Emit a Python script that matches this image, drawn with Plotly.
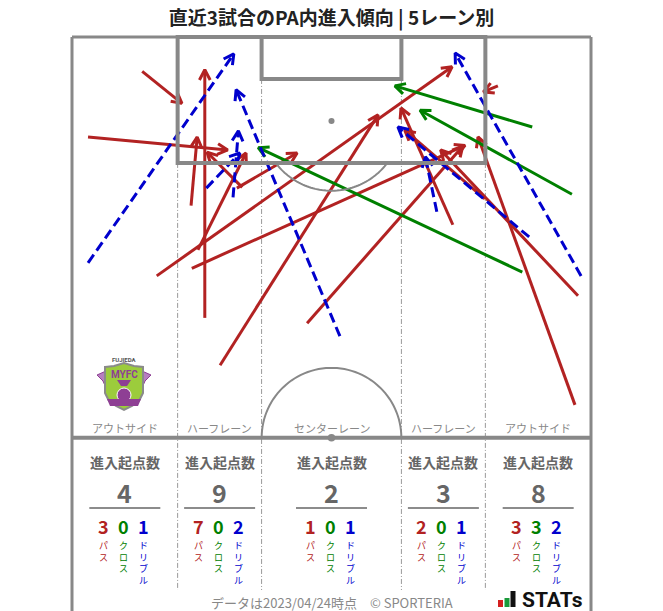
import numpy as np
import plotly.graph_objects as go

FONT = "Noto Sans CJK JP"

# ---------------- data ----------------
TITLE = "直近3試合のPA内進入傾向 | 5レーン別"
LANE_NAMES = ["アウトサイド", "ハーフレーン", "センターレーン", "ハーフレーン", "アウトサイド"]
LANE_EDGES = [0.0, 13.84, 24.84, 43.16, 54.16, 68.0]
PASS_COUNTS = [3, 7, 1, 2, 3]
CROSS_COUNTS = [0, 0, 0, 0, 3]
DRIBBLE_COUNTS = [1, 2, 1, 1, 2]
COUNT_LABELS = ["パス", "クロス", "ドリブル"]
HEADER_LABEL = "進入起点数"
DATA_NOTE = "データは2023/04/24時点　© SPORTERIA"

# arrows, metres: x from left touchline (0..68), y from goal line (0..52.5)
PASS_START_X = [9.2, 2.1, 11.1, 17.4, 15.6, 15.7, 19.4, 30.8, 65.9, 66.3, 55.8, 49.9, 54.1, 22.3, 21.6, 16.5]
PASS_START_Y = [4.5, 13.1, 31.3, 36.8, 22.1, 30.3, 43.0, 37.5, 48.2, 33.9, 6.4, 24.6, 21.2, 19.7, 19.8, 27.9]
PASS_END_X = [14.4, 20.4, 49.8, 17.4, 16.4, 51.5, 40.1, 51.2, 53.2, 48.3, 53.9, 43.1, 43.6, 17.7, 29.5, 22.8]
PASS_END_Y = [8.7, 14.8, 3.9, 4.3, 13.1, 14.2, 10.2, 14.3, 13.1, 14.8, 7.2, 9.3, 12.2, 15.1, 15.2, 15.2]

CROSS_START_X = [60.3, 65.5, 59.0]
CROSS_START_Y = [11.8, 20.6, 30.8]
CROSS_END_X = [42.3, 45.6, 24.4]
CROSS_END_Y = [6.4, 9.6, 14.5]

DRIBBLE_START_X = [2.1, 35.1, 21.1, 17.6, 47.8, 59.9, 66.7]
DRIBBLE_START_Y = [29.6, 39.2, 21.0, 19.8, 22.9, 26.2, 31.3]
DRIBBLE_END_X = [21.2, 21.5, 21.8, 22.0, 46.3, 42.7, 50.2]
DRIBBLE_END_Y = [2.2, 6.9, 12.3, 15.2, 15.7, 11.8, 2.1]

RED = "#b22222"
GREEN = "#008000"
BLUE = "#0000cd"
LINE_GRAY = "#888888"
TEXT_GRAY = "#666666"

# ---------------- layout geometry ----------------
# page has an 8px body margin, so the figure is drawn 8px smaller and offset
BODY = 8
W, H = 663 - BODY, 611 - BODY
S = 519 / 68.0  # px per metre
PLOT_L, PLOT_R, PLOT_T, PLOT_B = 62, 601, 27, 611   # plot area in page pixels
ML, MT = PLOT_L - BODY, PLOT_T - BODY
MR = W - (PLOT_R - BODY)
MB = H - (PLOT_B - BODY)
XR = [-(72 - PLOT_L) / S, 68 + (PLOT_R - 591) / S]
Y_TOP = -(37 - PLOT_T) / S
Y_BOT = Y_TOP + (PLOT_B - PLOT_T) / S


def pm(px, py):
    """page pixel -> metres (used only for decorative logos / text placement)"""
    return (px - 72) / S, (py - 37) / S


fig = go.Figure()

HEAD_LEN = 1.5
HEAD_ANG = np.deg2rad(28)


def add_arrows(x0s, y0s, x1s, y1s, color, dash, name):
    sx, sy, hx, hy = [], [], [], []
    for a, b, c, d in zip(x0s, y0s, x1s, y1s):
        sx += [a, c, None]
        sy += [b, d, None]
        v = np.array([a - c, b - d], dtype=float)
        v /= np.hypot(*v)
        pts = []
        for ang in (HEAD_ANG, -HEAD_ANG):
            rx = v[0] * np.cos(ang) - v[1] * np.sin(ang)
            ry = v[0] * np.sin(ang) + v[1] * np.cos(ang)
            pts.append((c + HEAD_LEN * rx, d + HEAD_LEN * ry))
        hx += [pts[0][0], c, pts[1][0], None]
        hy += [pts[0][1], d, pts[1][1], None]
    fig.add_trace(go.Scatter(x=sx, y=sy, mode="lines", name=name,
                             line=dict(color=color, width=3, dash=dash),
                             hoverinfo="skip", showlegend=False))
    fig.add_trace(go.Scatter(x=hx, y=hy, mode="lines", name=name + " head",
                             line=dict(color=color, width=3),
                             hoverinfo="skip", showlegend=False))


shapes = []
GRAY_THICK = dict(color=LINE_GRAY, width=4)

# outer border + halfway line
shapes.append(dict(type="line", x0=0, x1=0, y0=0, y1=Y_BOT + 1, line=dict(color=LINE_GRAY, width=3)))
shapes.append(dict(type="line", x0=68, x1=68, y0=0, y1=Y_BOT + 1, line=dict(color=LINE_GRAY, width=3)))
shapes.append(dict(type="line", x0=0, x1=68, y0=0, y1=0, line=dict(color=LINE_GRAY, width=3)))
shapes.append(dict(type="line", x0=0, x1=68, y0=52.5, y1=52.5, line=GRAY_THICK))
# penalty area and goal area
shapes.append(dict(type="rect", x0=13.84, x1=54.16, y0=0, y1=16.5, line=GRAY_THICK))
shapes.append(dict(type="rect", x0=24.84, x1=43.16, y0=0, y1=5.5, line=GRAY_THICK))


def arc_path(cx, cy, r, a0, a1, n=60):
    a = np.deg2rad(np.linspace(a0, a1, n))
    xs = cx + r * np.cos(a)
    ys = cy + r * np.sin(a)
    return "M " + " L ".join(f"{x:.3f},{y:.3f}" for x, y in zip(xs, ys))


ang = np.rad2deg(np.arcsin(5.5 / 9.15))
shapes.append(dict(type="path", path=arc_path(34, 11, 9.15, ang, 180 - ang),
                   line=dict(color=LINE_GRAY, width=2)))
shapes.append(dict(type="path", path=arc_path(34, 52.5, 9.15, 180, 360),
                   line=dict(color=LINE_GRAY, width=2)))
# spots
shapes.append(dict(type="circle", x0=34 - 0.4, x1=34 + 0.4, y0=11 - 0.4, y1=11 + 0.4,
                   fillcolor=LINE_GRAY, line=dict(width=0)))
shapes.append(dict(type="circle", x0=34 - 0.5, x1=34 + 0.5, y0=52.5 - 0.5, y1=52.5 + 0.5,
                   fillcolor=LINE_GRAY, line=dict(width=0)))

# lane dividers
STATS_BOTTOM = (590 - 37) / S
for xe, ys in zip(LANE_EDGES[1:-1], [16.5, 5.5, 5.5, 16.5]):
    shapes.append(dict(type="line", x0=xe, x1=xe, y0=ys, y1=STATS_BOTTOM,
                       line=dict(color="#9a9a9a", width=1, dash="5px,2px,1px,2px"), layer="below"))

annotations = []
centers = [(LANE_EDGES[i] + LANE_EDGES[i + 1]) / 2 for i in range(5)]

Y_LANE = (428 - 37) / S
Y_HEAD = (462 - 37) / S
Y_NUM = (492 - 37) / S
Y_RULE = (508 - 37) / S
Y_CNT = (526 - 37) / S
Y_CH0 = (538 - 37) / S
OFFS = [-21.5 / S, -1.5 / S, 18.5 / S]
COLORS = [RED, GREEN, BLUE]

for i, cx in enumerate(centers):
    annotations.append(dict(x=cx, y=Y_LANE, text=LANE_NAMES[i], showarrow=False,
                            font=dict(family=FONT, size=11, color="#888888")))
    annotations.append(dict(x=cx, y=Y_HEAD, text="<b>" + HEADER_LABEL + "</b>", showarrow=False,
                            font=dict(family=FONT, size=14, color=TEXT_GRAY)))
    total = PASS_COUNTS[i] + CROSS_COUNTS[i] + DRIBBLE_COUNTS[i]
    annotations.append(dict(x=cx, y=Y_NUM, text="<b>" + str(total) + "</b>", showarrow=False,
                            font=dict(family=FONT, size=25, color=TEXT_GRAY)))
    shapes.append(dict(type="line", x0=cx - 35.5 / S, x1=cx + 35.5 / S, y0=Y_RULE, y1=Y_RULE,
                       line=dict(color=TEXT_GRAY, width=1.5)))
    for k, cnt in enumerate([PASS_COUNTS[i], CROSS_COUNTS[i], DRIBBLE_COUNTS[i]]):
        annotations.append(dict(x=cx + OFFS[k], y=Y_CNT, text="<b>" + str(cnt) + "</b>",
                                showarrow=False, borderpad=0,
                                font=dict(family=FONT, size=18, color=COLORS[k])))
        annotations.append(dict(x=cx + OFFS[k], y=Y_CH0, yanchor="top",
                                text="<br>".join(COUNT_LABELS[k]),
                                showarrow=False, borderpad=0,
                                font=dict(family=FONT, size=9, color=COLORS[k])))

annotations.append(dict(x=34, y=(602 - 37) / S, text=DATA_NOTE, showarrow=False, borderpad=0,
                        font=dict(family=FONT, size=13, color="#888888")))

# ---- STATs logo ----
for (xa, xb, ya, yb, col) in [(498, 503, 600, 607, "#d42020"), (504.5, 509.5, 598, 607, "#1a9a3a"),
                              (510.5, 515.5, 591, 607, "#111111")]:
    x0, y0 = pm(xa, ya)
    x1, y1 = pm(xb, yb)
    shapes.append(dict(type="rect", x0=x0, x1=x1, y0=y0, y1=y1, fillcolor=col, line=dict(width=0)))
lx, ly = pm(552, 600)
annotations.append(dict(x=lx, y=ly, text="<b>STATs</b>", showarrow=False, borderpad=0,
                        font=dict(family="Roboto", size=21, color="#111111")))

# ---- club emblem (decorative approximation) ----
def ppath(pts, close=True):
    s = "M " + " L ".join("{:.3f},{:.3f}".format(*pm(x, y)) for x, y in pts)
    return s + (" Z" if close else "")

PURPLE = "#8e3f94"
shapes.append(dict(type="path", path=ppath([(106, 371), (97, 375), (103, 381), (106, 388)]),
                   fillcolor="#b77fc0", line=dict(color=PURPLE, width=1)))
shapes.append(dict(type="path", path=ppath([(142, 371), (151, 375), (145, 381), (142, 388)]),
                   fillcolor="#b77fc0", line=dict(color=PURPLE, width=1)))
shield = [(105, 367), (114, 366), (124, 363), (134, 366), (143, 367), (143, 393),
          (139, 401), (132, 406), (124, 410), (116, 406), (109, 401), (105, 393)]
shapes.append(dict(type="path", path=ppath(shield), fillcolor="#9ccc3c",
                   line=dict(color="#8a8a8a", width=2)))
bx0, by0 = pm(117, 388)
bx1, by1 = pm(131, 402)
shapes.append(dict(type="circle", x0=bx0, x1=bx1, y0=by0, y1=by1, fillcolor=PURPLE,
                   line=dict(color="white", width=1)))
shapes.append(dict(type="path", path=ppath([(107, 399), (141, 399), (138, 406), (110, 406)]),
                   fillcolor=PURPLE, line=dict(width=0)))
shapes.append(dict(type="path", path=ppath([(117, 380), (131, 380), (127, 386), (121, 386)]),
                   fillcolor=PURPLE, line=dict(width=0)))
ex, ey = pm(124, 359)
annotations.append(dict(x=ex, y=ey, text="<b>FUJIEDA</b>", showarrow=False, borderpad=0,
                        font=dict(family="Roboto", size=6, color="#555555")))
ex, ey = pm(124, 374)
annotations.append(dict(x=ex, y=ey, text="<b>MYFC</b>", showarrow=False, borderpad=0,
                        font=dict(family="Roboto", size=10, color=PURPLE)))

# ---- arrows ----
add_arrows(PASS_START_X, PASS_START_Y, PASS_END_X, PASS_END_Y, RED, "solid", "パス")
add_arrows(CROSS_START_X, CROSS_START_Y, CROSS_END_X, CROSS_END_Y, GREEN, "solid", "クロス")
add_arrows(DRIBBLE_START_X, DRIBBLE_START_Y, DRIBBLE_END_X, DRIBBLE_END_Y, BLUE, "10px,5px", "ドリブル")

fig.update_layout(
    width=W, height=H,
    margin=dict(l=ML, r=MR, t=MT, b=MB, pad=0, autoexpand=False),
    paper_bgcolor="white", plot_bgcolor="white",
    title=dict(text="<b>" + TITLE + "</b>", x=(331.5 - BODY) / W, xanchor="center", xref="container",
               y=1 - (18.5 - BODY) / H, yanchor="middle", yref="container",
               font=dict(family=FONT, size=19, color="#222222")),
    xaxis=dict(range=XR, visible=False, fixedrange=True),
    yaxis=dict(range=[Y_BOT, Y_TOP], visible=False, fixedrange=True),
    shapes=shapes,
    annotations=annotations,
    showlegend=False,
)

fig.write_html("out.html")
